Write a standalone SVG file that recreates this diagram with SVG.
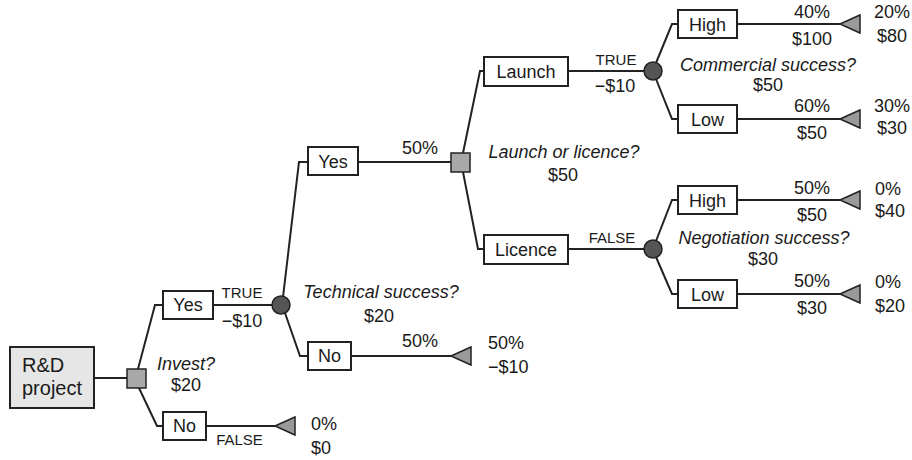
<svg xmlns="http://www.w3.org/2000/svg" xmlns:xlink="http://www.w3.org/1999/xlink" width="912" height="460" viewBox="0 0 912 460">
  <style>
    .edge { fill: none; stroke: #222; stroke-width: 2; }
    .box { fill: #fff; stroke: #222; stroke-width: 2; }
    .root { fill: #e6e6e6; stroke: #222; stroke-width: 2; }
    .dec { fill: #a8a8a8; stroke: #222; stroke-width: 1.5; }
    .chance { fill: #555; stroke: #222; stroke-width: 1.5; }
    .end { fill: #9a9a9a; stroke: #222; stroke-width: 1.5; }
    text { font-family: "Liberation Sans", Arial, sans-serif; font-size: 18px; fill: #1a1a1a; }
    .c { text-anchor: middle; }
    .it { font-style: italic; }
    .sm { font-size: 15px; }
    .big { font-size: 20px; }
  </style>
  <defs>
    <!-- terminal node: left-pointing triangle, tip at origin -->
    <polygon id="tri" points="0,0 20,-9 20,9"/>
  </defs>

  <!-- connectors -->
  <g id="connectors">
    <path class="edge" d="M94,378 H127"/>
    <path class="edge" d="M138,369 L155,305 H163"/>
    <path class="edge" d="M139,388 L157,426 H163"/>
    <path class="edge" d="M213,305 H272"/>
    <path class="edge" d="M206,426 H275"/>
    <path class="edge" d="M283,297 L299,162 H308"/>
    <path class="edge" d="M285,313 L300,356 H308"/>
    <path class="edge" d="M358,162 H451"/>
    <path class="edge" d="M351,356 H451"/>
    <path class="edge" d="M463,153 L480,71 H484"/>
    <path class="edge" d="M463,172 L478,249 H484"/>
    <path class="edge" d="M568,71 H644"/>
    <path class="edge" d="M656,63 L672,24 H678"/>
    <path class="edge" d="M656,79 L672,119 H678"/>
    <path class="edge" d="M737,24 H840"/>
    <path class="edge" d="M737,119 H840"/>
    <path class="edge" d="M568,249 H644"/>
    <path class="edge" d="M656,241 L672,200 H678"/>
    <path class="edge" d="M656,257 L672,294 H678"/>
    <path class="edge" d="M737,200 H840"/>
    <path class="edge" d="M737,294 H840"/>
  </g>

  <!-- root -->
  <g id="rd-project">
    <rect class="root" x="10" y="347" width="84" height="61"/>
    <text class="big" x="22" y="372">R&amp;D</text>
    <text class="big" x="22" y="395">project</text>
  </g>

  <!-- Invest? decision -->
  <g id="invest">
    <rect class="dec" x="127" y="369" width="19" height="19"/>
    <text class="it c" x="186" y="369.5">Invest?</text>
    <text class="c" x="186" y="391">$20</text>
  </g>

  <g id="invest-yes">
    <rect class="box" x="163" y="291" width="50" height="28"/>
    <text class="c" x="188" y="311">Yes</text>
    <text class="sm c" x="242" y="298">TRUE</text>
    <text class="c" x="242" y="327">−$10</text>
  </g>

  <g id="invest-no">
    <rect class="box" x="163" y="412" width="43" height="28"/>
    <text class="c" x="184.5" y="432">No</text>
    <text class="sm c" x="239.5" y="445">FALSE</text>
  </g>

  <g id="invest-no-end">
    <use xlink:href="#tri" class="end" x="275" y="426"/>
    <text x="311" y="430">0%</text>
    <text x="311" y="454">$0</text>
  </g>

  <!-- Technical success? chance -->
  <g id="technical">
    <circle class="chance" cx="281" cy="305" r="9"/>
    <text class="it c" x="381" y="298">Technical success?</text>
    <text class="c" x="379" y="322">$20</text>
  </g>

  <g id="tech-yes">
    <rect class="box" x="308" y="147" width="50" height="28"/>
    <text class="c" x="333" y="167.5">Yes</text>
    <text class="c" x="420" y="154">50%</text>
  </g>

  <g id="tech-no">
    <rect class="box" x="308" y="342" width="43" height="28"/>
    <text class="c" x="329.5" y="362">No</text>
    <text class="c" x="420" y="347">50%</text>
  </g>

  <g id="tech-no-end">
    <use xlink:href="#tri" class="end" x="451" y="356"/>
    <text x="488" y="349">50%</text>
    <text x="488" y="373">−$10</text>
  </g>

  <!-- Launch or licence? decision -->
  <g id="launch-or-licence">
    <rect class="dec" x="451" y="153" width="19" height="19"/>
    <text class="it c" x="564" y="158">Launch or licence?</text>
    <text class="c" x="563" y="181">$50</text>
  </g>

  <g id="launch">
    <rect class="box" x="484" y="57" width="84" height="29"/>
    <text class="c" x="526" y="78">Launch</text>
    <text class="sm c" x="616" y="65">TRUE</text>
    <text class="c" x="615" y="92">−$10</text>
  </g>

  <g id="licence">
    <rect class="box" x="484" y="235" width="84" height="29"/>
    <text class="c" x="526" y="256">Licence</text>
    <text class="sm c" x="612" y="243">FALSE</text>
  </g>

  <!-- Commercial success? chance -->
  <g id="commercial">
    <circle class="chance" cx="653" cy="71" r="9"/>
    <text class="it c" x="768" y="70.5">Commercial success?</text>
    <text class="c" x="768" y="91">$50</text>
  </g>

  <g id="commercial-high">
    <rect class="box" x="678" y="10" width="59" height="28"/>
    <text class="c" x="707.5" y="30.5">High</text>
    <text class="c" x="812" y="18">40%</text>
    <text class="c" x="812" y="45">$100</text>
  </g>
  <g id="commercial-high-end">
    <use xlink:href="#tri" class="end" x="840" y="24"/>
    <text class="c" x="892" y="18">20%</text>
    <text class="c" x="892" y="42">$80</text>
  </g>

  <g id="commercial-low">
    <rect class="box" x="678" y="105" width="59" height="28"/>
    <text class="c" x="707.5" y="125.5">Low</text>
    <text class="c" x="812" y="112">60%</text>
    <text class="c" x="812" y="139">$50</text>
  </g>
  <g id="commercial-low-end">
    <use xlink:href="#tri" class="end" x="840" y="119"/>
    <text class="c" x="892" y="112">30%</text>
    <text class="c" x="892" y="134">$30</text>
  </g>

  <!-- Negotiation success? chance -->
  <g id="negotiation">
    <circle class="chance" cx="653" cy="249" r="9"/>
    <text class="it c" x="764" y="244">Negotiation success?</text>
    <text class="c" x="763" y="264.5">$30</text>
  </g>

  <g id="negotiation-high">
    <rect class="box" x="678" y="186" width="59" height="28"/>
    <text class="c" x="707.5" y="206.5">High</text>
    <text class="c" x="812" y="194">50%</text>
    <text class="c" x="812" y="221">$50</text>
  </g>
  <g id="negotiation-high-end">
    <use xlink:href="#tri" class="end" x="840" y="200"/>
    <text class="c" x="888" y="195">0%</text>
    <text class="c" x="890" y="217">$40</text>
  </g>

  <g id="negotiation-low">
    <rect class="box" x="678" y="280" width="59" height="28"/>
    <text class="c" x="707.5" y="300.5">Low</text>
    <text class="c" x="812" y="287">50%</text>
    <text class="c" x="812" y="314">$30</text>
  </g>
  <g id="negotiation-low-end">
    <use xlink:href="#tri" class="end" x="840" y="294"/>
    <text class="c" x="888" y="288">0%</text>
    <text class="c" x="890" y="312">$20</text>
  </g>
</svg>
